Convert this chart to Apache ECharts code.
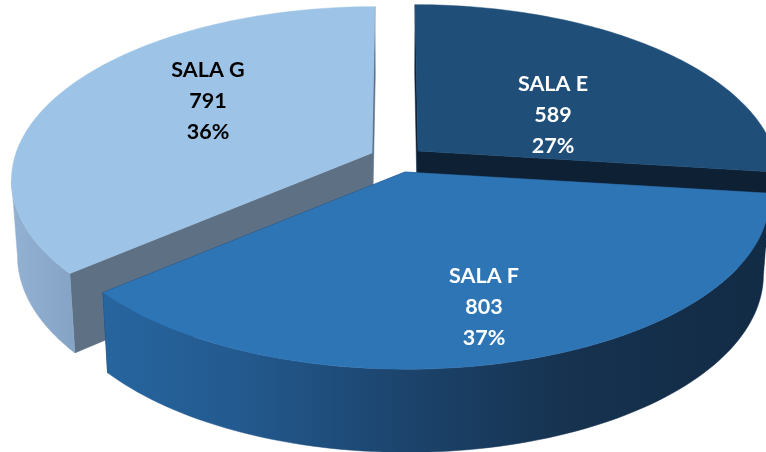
<!DOCTYPE html>
<html>
<head>
<meta charset="utf-8">
<title>SALA</title>
<script src="https://cdn.jsdelivr.net/npm/echarts@6/dist/echarts.min.js"></script>
<style>
  html, body { margin: 0; padding: 0; background: #fff; }
  #chart { width: 766px; height: 452px; }
</style>
</head>
<body>
<div id="chart"></div>
<script>
// data
const salaNames = ['SALA E', 'SALA F', 'SALA G'];
const salaValues = [589, 803, 791];
const salaPercents = ['27%', '37%', '36%'];

// look of each slice, same order as salaNames
const looks = [
  { apex: [418, 151], radius: 356, label: [553, 115], text: '#fff', top: '#1F4E79', cut: '#0E2134',
    wall: [[0, '#0E2134'], [1, '#0E2134']] },
  { apex: [405, 172], radius: 360, label: [484, 307], text: '#fff', top: '#2E75B6', cut: '#16324F',
    wall: [[0, '#27659F'], [0.2, '#235A8F'], [0.45, '#1C446D'], [0.7, '#16324F'], [1, '#122B45']] },
  { apex: [372, 153], radius: 356, label: [208, 101], text: '#000', top: '#9DC3E6', cut: '#5D7084',
    wall: [[0, '#93B2D3'], [1, '#86A4C5']] }
];
const drawOrder = [0, 2, 1];

// tilted disc: perspective towards the vanishing x, and the thickness of the pie
const vanishX = 395;
const tilt = 168;
const persp = 0.148;
const depth = 80;
const depthGrow = 0.04;
const depthScale = 0.9845;
const steps = 90;

const total = salaValues.reduce((a, b) => a + b, 0);
const slices = salaValues.map((v, i) => {
  const before = salaValues.slice(0, i).reduce((a, b) => a + b, 0);
  return [i, before / total * Math.PI * 2, (before + v) / total * Math.PI * 2];
});

function rim(look, angle) {
  const u = Math.sin(angle);
  const v = -Math.cos(angle);
  const w = 1 - persp * v;
  return [vanishX + (look.apex[0] - vanishX + look.radius * u) / w, look.apex[1] + tilt * v / w];
}

// same point on the underside of the pie, nearer points look a bit thicker
function lower(p) {
  return [vanishX + (p[0] - vanishX) * depthScale, p[1] + depth + (p[1] - 290) * depthGrow];
}

function sampleArc(look, from, to) {
  const pts = [];
  for (let s = 0; s <= steps; s++) {
    pts.push(rim(look, from + (to - from) * s / steps));
  }
  return pts;
}

// angles where the rim turns from back to front, on the right and on the left
function silhouette(look) {
  let right = 0;
  let left = 0;
  for (let d = 0; d < 360; d++) {
    const a = d * Math.PI / 180;
    if (rim(look, a)[0] > rim(look, right)[0]) right = a;
    if (rim(look, a)[0] < rim(look, left)[0]) left = a;
  }
  return [right, left];
}

function renderSlice(params, api) {
  const i = api.value(0);
  const start = api.value(1);
  const end = api.value(2);
  const look = looks[i];
  const arc = sampleArc(look, start, end);
  const first = arc[0];
  const last = arc[steps];
  const side = silhouette(look);
  const front = sampleArc(look, Math.max(start, side[0]), Math.min(end, side[1]));
  const xs = front.map(p => p[0]);
  const fill = new echarts.graphic.LinearGradient(
    Math.min.apply(null, xs), 0, Math.max.apply(null, xs), 0,
    look.wall.map(s => ({ offset: s[0], color: s[1] })), true);
  const poly = (points, color) => ({
    type: 'polygon',
    shape: { points: points },
    style: { fill: color, stroke: color, lineWidth: 0.5 }
  });
  return {
    type: 'group',
    children: [
      poly([look.apex, first, lower(first), lower(look.apex)], look.cut),
      poly([look.apex, last, lower(last), lower(look.apex)], look.cut),
      poly(front.concat(front.map(lower).reverse()), fill),
      poly([look.apex].concat(arc), look.top),
      {
        type: 'text',
        z2: 10,
        style: {
          x: look.label[0],
          y: look.label[1],
          text: salaNames[i] + '\n' + salaValues[i] + '\n' + salaPercents[i],
          fill: look.text,
          align: 'center',
          verticalAlign: 'middle',
          lineHeight: 31,
          font: 'bold 21.5px Lato'
        }
      }
    ]
  };
}

const chart = echarts.init(document.getElementById('chart'), null, { renderer: 'canvas' });
chart.setOption({
  animation: false,
  backgroundColor: '#fff',
  series: [{
    type: 'custom',
    coordinateSystem: 'none',
    renderItem: renderSlice,
    data: drawOrder.map(i => slices[i])
  }]
});
</script>
</body>
</html>
